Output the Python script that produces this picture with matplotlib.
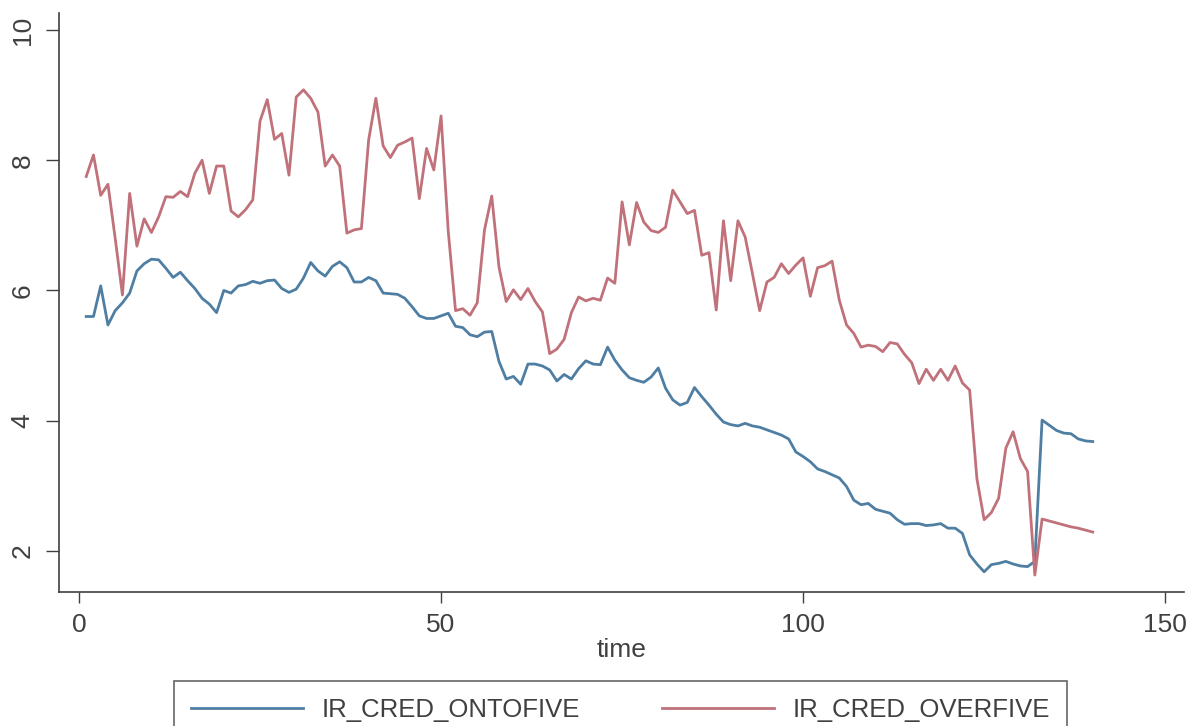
import numpy as np
import matplotlib
matplotlib.use("Agg")
import matplotlib.pyplot as plt

plt.rcParams["font.family"] = ["Liberation Sans", "DejaVu Sans"]

time = np.arange(1, 141)

ir_cred_ontofive = [
    5.60, 5.60, 6.07, 5.47, 5.69, 5.81, 5.96, 6.30, 6.41, 6.48,
    6.47, 6.34, 6.20, 6.28, 6.15, 6.03, 5.88, 5.79, 5.66, 6.00,
    5.96, 6.07, 6.09, 6.14, 6.11, 6.15, 6.16, 6.03, 5.97, 6.02,
    6.19, 6.43, 6.30, 6.22, 6.37, 6.44, 6.35, 6.13, 6.13, 6.20,
    6.15, 5.96, 5.95, 5.94, 5.88, 5.75, 5.61, 5.57, 5.57, 5.61,
    5.65, 5.45, 5.43, 5.32, 5.29, 5.36, 5.37, 4.91, 4.64, 4.68,
    4.56, 4.87, 4.87, 4.84, 4.78, 4.61, 4.71, 4.64, 4.80, 4.92,
    4.87, 4.86, 5.13, 4.93, 4.78, 4.66, 4.62, 4.59, 4.67, 4.81,
    4.50, 4.32, 4.24, 4.28, 4.51, 4.37, 4.24, 4.10, 3.98, 3.94,
    3.92, 3.96, 3.92, 3.90, 3.86, 3.82, 3.78, 3.72, 3.52, 3.45,
    3.37, 3.26, 3.22, 3.17, 3.12, 2.99, 2.78, 2.71, 2.73, 2.64,
    2.61, 2.58, 2.48, 2.41, 2.42, 2.42, 2.39, 2.40, 2.42, 2.35,
    2.35, 2.27, 1.94, 1.80, 1.68, 1.79, 1.81, 1.84, 1.80, 1.77,
    1.76, 1.84, 4.01, 3.93, 3.85, 3.81, 3.80, 3.72, 3.69, 3.68,
]

ir_cred_overfive = [
    7.75, 8.08, 7.46, 7.63, 6.80, 5.93, 7.49, 6.68, 7.10, 6.89,
    7.13, 7.44, 7.43, 7.52, 7.44, 7.80, 8.00, 7.49, 7.91, 7.91,
    7.22, 7.13, 7.24, 7.39, 8.60, 8.93, 8.32, 8.41, 7.77, 8.97,
    9.08, 8.95, 8.74, 7.91, 8.08, 7.91, 6.88, 6.93, 6.95, 8.31,
    8.95, 8.22, 8.04, 8.23, 8.28, 8.34, 7.41, 8.18, 7.85, 8.68,
    6.90, 5.69, 5.72, 5.62, 5.81, 6.93, 7.45, 6.36, 5.83, 6.01,
    5.86, 6.03, 5.83, 5.67, 5.03, 5.10, 5.25, 5.66, 5.90, 5.84,
    5.88, 5.85, 6.19, 6.11, 7.36, 6.70, 7.35, 7.05, 6.92, 6.89,
    6.97, 7.54, 7.36, 7.18, 7.23, 6.54, 6.58, 5.70, 7.07, 6.15,
    7.07, 6.82, 6.26, 5.69, 6.13, 6.20, 6.41, 6.26, 6.39, 6.50,
    5.91, 6.35, 6.38, 6.45, 5.85, 5.47, 5.34, 5.13, 5.16, 5.14,
    5.06, 5.20, 5.18, 5.02, 4.89, 4.57, 4.79, 4.62, 4.79, 4.62,
    4.84, 4.58, 4.47, 3.11, 2.48, 2.59, 2.81, 3.58, 3.83, 3.42,
    3.22, 1.63, 2.49, 2.46, 2.43, 2.40, 2.37, 2.35, 2.32, 2.29,
]

x_ticks = [0, 50, 100, 150]
y_ticks = [2, 4, 6, 8, 10]

BLUE = "#4f7ea3"
RED = "#c0717a"
INK = "#404040"

fig = plt.figure(figsize=(11.91, 7.26), dpi=100)
ax = fig.add_axes([59 / 1191, 1 - 592 / 726, 1125 / 1191, 579 / 726])

l1, = ax.plot(time, ir_cred_ontofive, color=BLUE, lw=2.0, label="IR_CRED_ONTOFIVE")
l2, = ax.plot(time, ir_cred_overfive, color=RED, lw=2.0, label="IR_CRED_OVERFIVE")

ax.set_xlim(-2.76, 152.6)
ax.set_ylim(1.37, 10.26)
ax.set_xticks(x_ticks)
ax.set_yticks(y_ticks)
ax.set_yticklabels([str(v) for v in y_ticks], rotation=90, va="center")

for side in ("top", "right"):
    ax.spines[side].set_visible(False)
for side in ("left", "bottom"):
    ax.spines[side].set_color(INK)
    ax.spines[side].set_linewidth(1.2)

ax.tick_params(axis="both", colors=INK, labelcolor=INK, labelsize=19, width=1.0)
ax.tick_params(axis="y", length=9.4, pad=8)
ax.tick_params(axis="x", length=8, pad=7)
ax.set_xlabel("time", fontsize=19, color=INK, labelpad=1)

# legend sits in a square box under the axis, clipped by the figure bottom
fs = 18.5
px = fs * 100 / 72
leg = fig.legend(
    handles=[l1, l2],
    loc="upper center",
    bbox_to_anchor=(620.5 / 1191, 1 - 681 / 726),
    ncol=2,
    fontsize=fs,
    frameon=True,
    fancybox=False,
    handlelength=112 / px,
    handletextpad=19 / px,
    columnspacing=82 / px,
    borderaxespad=0,
    borderpad=0.65,
)
frame = leg.get_frame()
frame.set_edgecolor(INK)
frame.set_linewidth(1.2)
for txt in leg.get_texts():
    txt.set_color(INK)

fig.savefig("out.png", dpi=100, facecolor="white")
